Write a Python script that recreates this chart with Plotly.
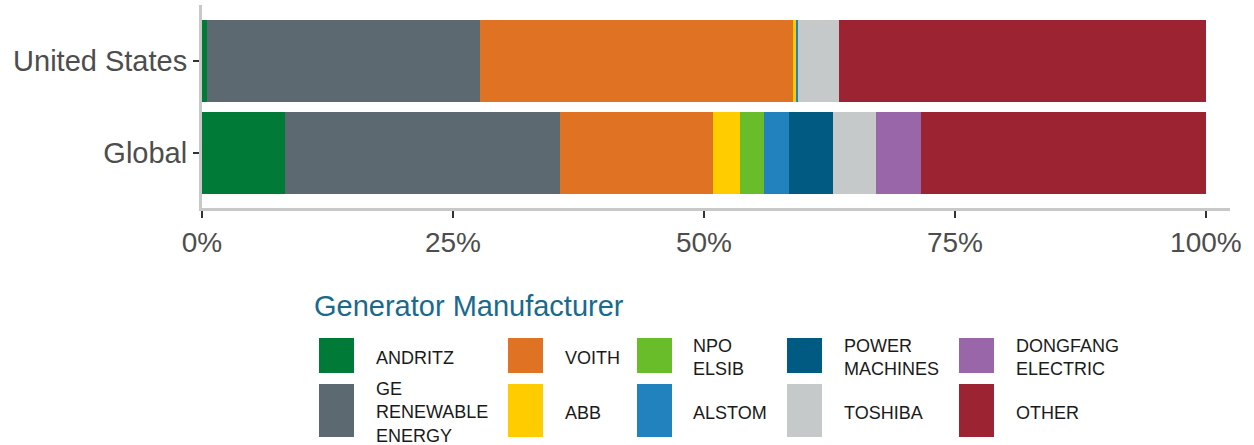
import plotly.graph_objects as go

regions = ["Global", "United States"]

manufacturers = [
    "ANDRITZ",
    "GE RENEWABLE ENERGY",
    "VOITH",
    "ABB",
    "NPO ELSIB",
    "ALSTOM",
    "POWER MACHINES",
    "TOSHIBA",
    "DONGFANG ELECTRIC",
    "OTHER"
]

# share of installed capacity, %
global_share = [8.3, 27.4, 15.2, 2.7, 2.4, 2.45, 4.45, 4.2, 4.5, 28.4]
us_share = [0.5, 27.15, 31.2, 0.33, 0.0, 0.17, 0.0, 4.1, 0.0, 36.55]

colors = [
    "#007a37",
    "#5d6971",
    "#e07223",
    "#ffcc00",
    "#6abd2a",
    "#2182bd",
    "#005a82",
    "#c5c9c9",
    "#9966aa",
    "#9c2432"
]

legend_labels = [
    "ANDRITZ",
    "GE<br>RENEWABLE<br>ENERGY",
    "VOITH",
    "ABB",
    "NPO<br>ELSIB",
    "ALSTOM",
    "POWER<br>MACHINES",
    "TOSHIBA",
    "DONGFANG<br>ELECTRIC",
    "OTHER"
]

tick_vals = [0, 25, 50, 75, 100]
tick_text = ["0%", "25%", "50%", "75%", "100%"]

W, H = 1254, 445
L, R, T, B = 202, 24, 5, 237


def px_x(x):
    return (x - L) / (W - L - R)


def px_y(y):
    return (H - B - y) / (H - T - B)


fig = go.Figure()

for i, name in enumerate(manufacturers):
    fig.add_trace(go.Bar(
        y=regions,
        x=[global_share[i], us_share[i]],
        name=name,
        orientation="h",
        marker=dict(color=colors[i], line=dict(width=0)),
        showlegend=False
    ))

# legend drawn as a grid of swatches, two rows, filled column by column
col_swatch = [319, 508, 637, 787, 959]
col_text = [374, 563, 691, 842, 1014]
row_top = [338, 384]
row_bottom = [373, 437]

shapes = []
annotations = []
for i, label in enumerate(legend_labels):
    c, r = i // 2, i % 2
    shapes.append(dict(
        type="rect", xref="paper", yref="paper",
        x0=px_x(col_swatch[c]), x1=px_x(col_swatch[c] + 35),
        y0=px_y(row_bottom[r]), y1=px_y(row_top[r]),
        fillcolor=colors[i], line=dict(width=0)
    ))
    annotations.append(dict(
        xref="paper", yref="paper",
        x=px_x(col_text[c]), y=px_y((row_top[r] + row_bottom[r]) / 2 + 2),
        xanchor="left", yanchor="middle", align="left",
        text=label, showarrow=False,
        font=dict(family="Liberation Sans, Arial", size=18, color="#1a1a1a")
    ))

annotations.append(dict(
    xref="paper", yref="paper",
    x=px_x(312), y=px_y(306),
    xanchor="left", yanchor="middle",
    text="Generator Manufacturer", showarrow=False,
    font=dict(family="Liberation Sans, Arial", size=29, color="#196a8e")
))

fig.update_layout(
    barmode="stack",
    bargap=0.11,
    width=W,
    height=H,
    margin=dict(l=L, r=R, t=T, b=B),
    plot_bgcolor="white",
    paper_bgcolor="white",
    shapes=shapes,
    annotations=annotations
)

fig.update_xaxes(
    range=[0, 102.4],
    tickvals=tick_vals,
    ticktext=tick_text,
    showgrid=False,
    zeroline=False,
    showline=True,
    linecolor="#c8c8c8",
    linewidth=3,
    ticks="outside",
    ticklen=7,
    tickwidth=2,
    tickcolor="#333333",
    tickfont=dict(family="Liberation Sans, Arial", size=28, color="#4d4d4d")
)

fig.update_yaxes(
    range=[-0.6, 1.61],
    showgrid=False,
    showline=True,
    linecolor="#c8c8c8",
    linewidth=3,
    ticks="outside",
    ticklen=6,
    tickwidth=2,
    tickcolor="#333333",
    tickfont=dict(family="Liberation Sans, Arial", size=29, color="#4d4d4d")
)

fig.write_html(
    "out.html",
    config={"displayModeBar": False},
    post_script="document.body.style.margin='0';"
)
